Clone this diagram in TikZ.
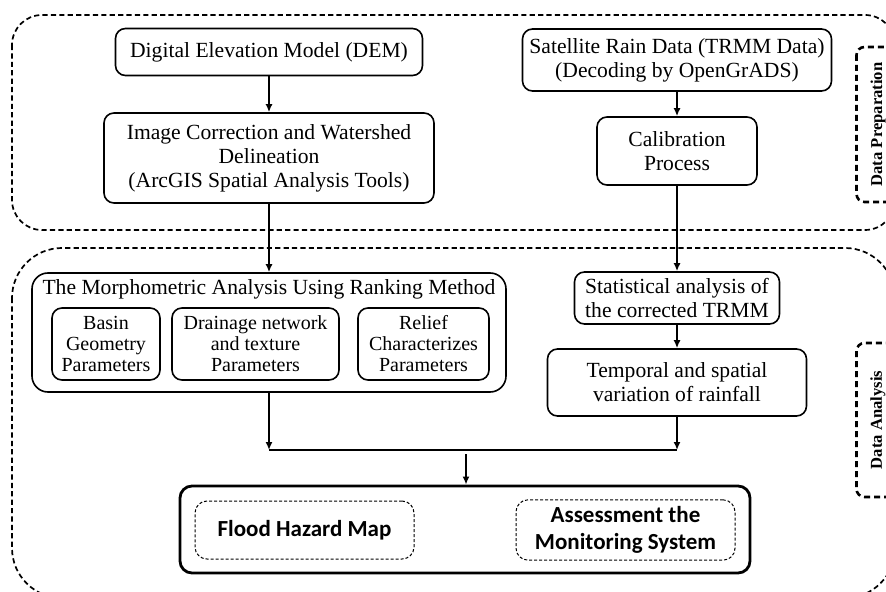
\documentclass[tikz,border=0pt]{standalone}
\usepackage{fontspec}
\setmainfont{Liberation Serif}
\newfontfamily\calibrifont{Carlito}
\usetikzlibrary{arrows.meta}

\tikzset{
  box/.style={draw, line width=0.8pt, rounded corners=5pt, align=center,
    inner sep=2pt, font=\fontsize{10.8}{12}\selectfont},
  subbox/.style={box, font=\fontsize{10}{10.5}\selectfont},
  region/.style={draw, line width=0.85pt, dash pattern=on 2.6pt off 1.6pt},
  tag/.style={draw, line width=1.3pt, dash pattern=on 3pt off 2pt,
    rounded corners=4pt, rotate=90, minimum height=21.5pt,
    font=\fontsize{8.3}{9}\selectfont\bfseries},
  result/.style={draw, line width=0.5pt, dash pattern=on 1.5pt off 1pt,
    rounded corners=6pt, align=center, minimum width=109.5pt, minimum height=29pt,
    font=\calibrifont\fontsize{11.5}{13.5}\selectfont\bfseries},
  flow/.style={-{Latex[length=4pt,width=3.5pt]}, line width=0.9pt}
}

\begin{document}
\begin{tikzpicture}[x=0.5pt,y=-0.5pt]
  \useasboundingbox (0,0) rectangle (886,592);
  % dashed stages
  \draw[region, rounded corners=15pt] (12,15) rectangle (895,230);
  \draw[region, rounded corners=25pt] (12,248) rectangle (895,598);
  \node[tag, minimum width=77.5pt] (prep) at (878,124.5) {Data Preparation};
  \node[tag, minimum width=77pt] (anal) at (878,420) {Data Analysis};
  % left column
  \node[box, minimum width=153.5pt, minimum height=23.5pt] (dem) at (269,52)
    {Digital Elevation Model (DEM)};
  \node[box, minimum width=165pt, minimum height=45pt] (img) at (269,158)
    {Image Correction and Watershed\\Delineation\\(ArcGIS Spatial Analysis Tools)};
  \node[box, rounded corners=8pt, minimum width=237pt, minimum height=59.5pt] (morph)
    at (269,332.5) {};
  \node[font=\fontsize{10.8}{12}\selectfont] (morphtitle) at (269,289)
    {The Morphometric Analysis Using Ranking Method};
  \node[subbox, minimum width=54pt, minimum height=36pt] (basin) at (106,344)
    {Basin\\Geometry\\Parameters};
  \node[subbox, minimum width=83.5pt, minimum height=36pt] (drain) at (255.5,344)
    {Drainage network\\and texture\\Parameters};
  \node[subbox, minimum width=65.5pt, minimum height=36pt] (relief) at (423.5,344)
    {Relief\\Characterizes\\Parameters};
  % right column
  \node[box, minimum width=154.5pt, minimum height=31pt] (sat) at (677,60)
    {Satellite Rain Data (TRMM Data)\\(Decoding by OpenGrADS)};
  \node[box, minimum width=80pt, minimum height=34pt] (calib) at (677,151)
    {Calibration\\Process};
  \node[box, minimum width=102.5pt, minimum height=26pt] (stat) at (677,298)
    {Statistical analysis of\\the corrected TRMM};
  \node[box, minimum width=129.5pt, minimum height=33.5pt] (temp) at (677,382.5)
    {Temporal and spatial\\variation of rainfall};
  % outputs
  \node[draw, line width=1.4pt, rounded corners=6pt, minimum width=285pt,
    minimum height=43.5pt] (out) at (465,529.5) {};
  \node[result] (flood) at (304.5,530) {Flood Hazard Map};
  \node[result] (assess) at (625.5,530) {Assessment the\\Monitoring System};
  % arrows
  \draw[flow] (dem) -- (img);
  \draw[flow] (img) -- (morph);
  \draw[flow] (sat) -- (calib);
  \draw[flow] (calib) -- (stat);
  \draw[flow] (stat) -- (temp);
  \coordinate (jl) at (269,450);
  \coordinate (jr) at (677,450);
  \coordinate (jm) at (466,454);
  \draw[flow] (morph) -- (jl);
  \draw[flow] (temp) -- (jr);
  \draw[line width=0.9pt] (jl) -- (jr);
  \draw[flow] (jm) -- (jm |- out.north);
\end{tikzpicture}
\end{document}
